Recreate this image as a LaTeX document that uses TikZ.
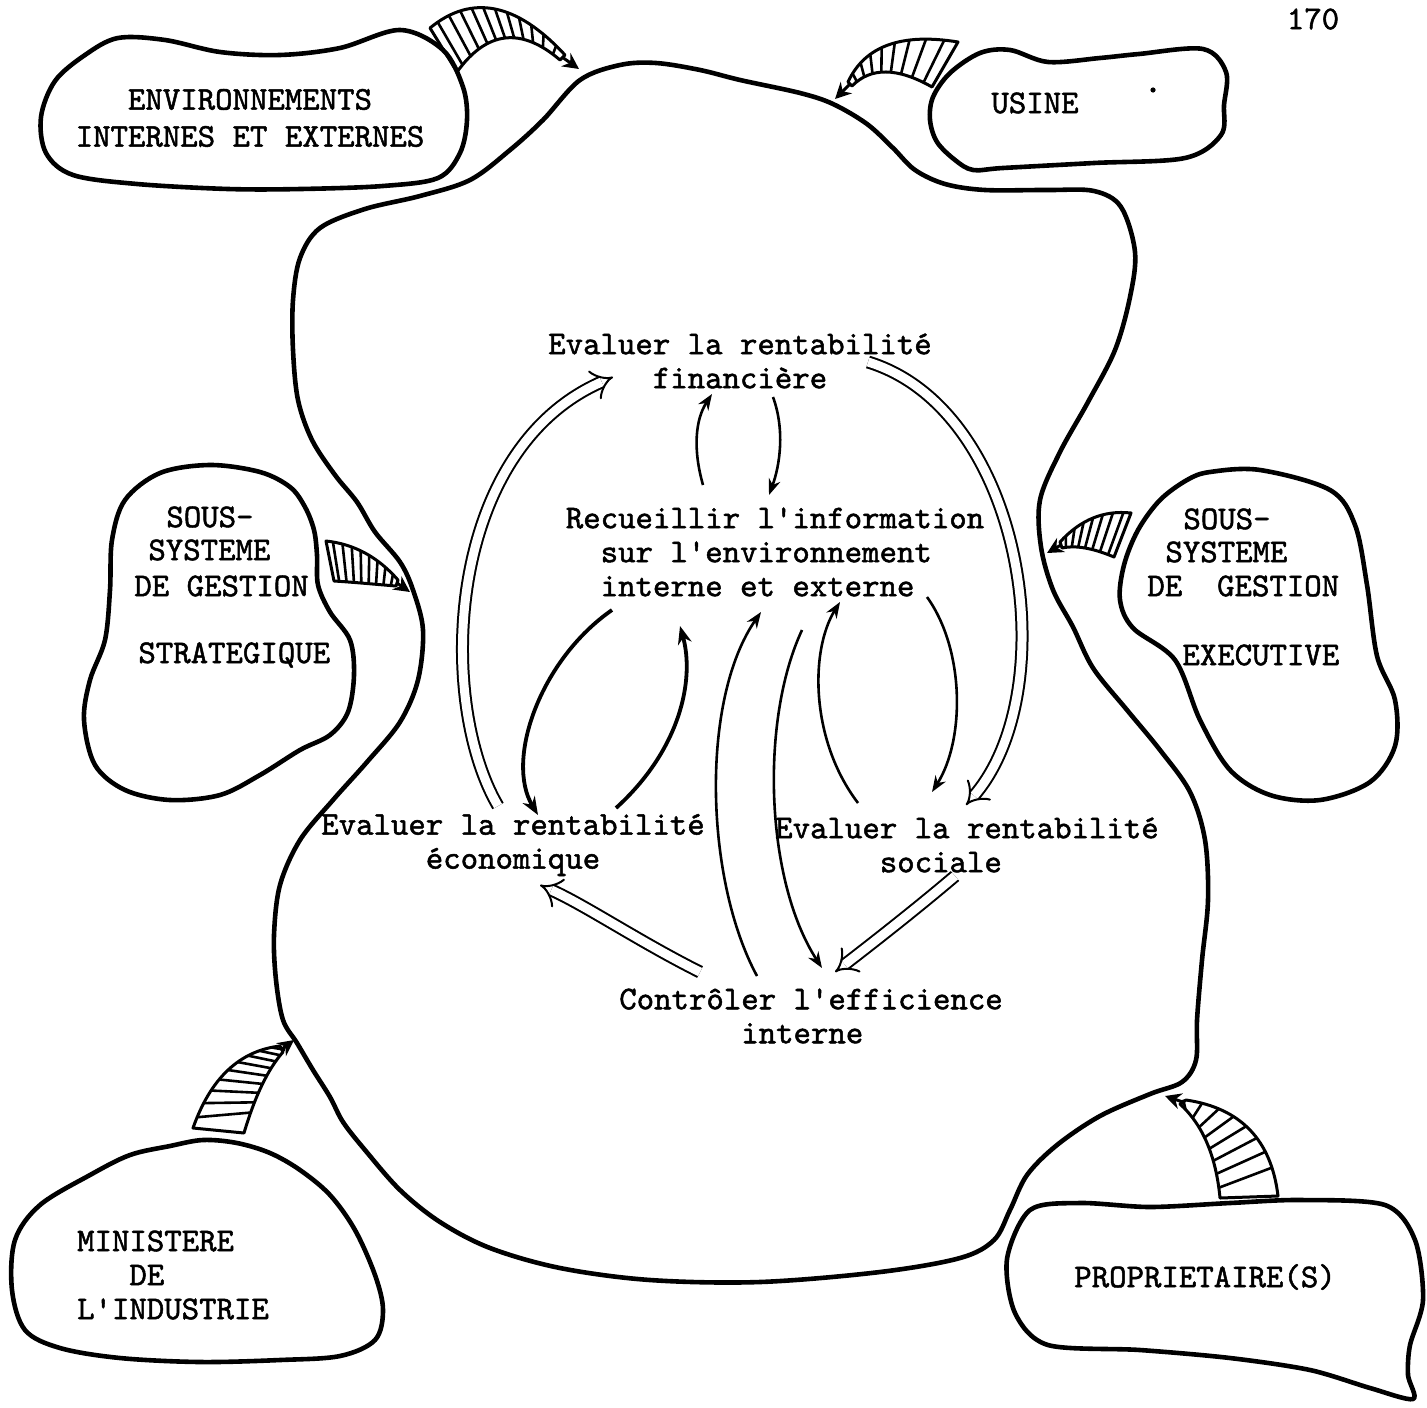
\documentclass[tikz,border=0pt]{standalone}
\usepackage{fontspec}
\setmonofont{lmmono10-regular.otf}[FakeBold=1.5]
\usetikzlibrary{arrows.meta,calc}
\newcommand\hatchband[3]{%
  \foreach \k in {1,...,#2}{%
    \pgfmathsetmacro\ta{(\k-0.3)/(#2+0.4)}%
    \pgfmathsetmacro\tb{\ta+#3}%
    \path (#1oa) .. controls (#1o1) and (#1o2) .. (#1oe) coordinate[pos=\ta] (#1h);
    \path (#1ia) .. controls (#1i1) and (#1i2) .. (#1ie) coordinate[pos=\tb] (#1g);
    \draw[hatchline] (#1h) -- (#1g);
  }%
  \draw[bandline] (#1oa) .. controls (#1o1) and (#1o2) .. (#1oe) -- (#1ie) .. controls (#1i2) and (#1i1) .. (#1ia) -- cycle;
  \draw[bandline,-{Stealth[length=8pt,width=8pt]}] (#1end) -- (#1tip);
}
\begin{document}
\begin{tikzpicture}[x=0.5pt,y=-0.5pt,
  every node/.style={font=\ttfamily\fontsize{16.6}{17}\selectfont, inner sep=0pt},
  blob/.style={line width=2.3pt, line join=round},
  bandline/.style={line width=1.5pt, line join=round},
  hatchline/.style={line width=1.3pt},
  thinarr/.style={line width=1.3pt, -{Stealth[length=8pt,width=6pt]}},
  thickarr/.style={line width=1.9pt, -{Stealth[length=9pt,width=7pt]}},
  dblarr/.style={double, double distance=4.5pt, line width=1pt, -{Implies}},
  ]
\useasboundingbox (0,0) rectangle (1427,1407);
\fill[white] (0,0) rectangle (1427,1407);

% ---------- main blob ----------
\draw[blob] plot[smooth cycle, tension=0.55] coordinates {
 (620,65) (656,63) (700,70) (740,80) (800,93) (833,104) (867,124) (893,148)
 (915,170) (945,184) (985,190) (1048,190) (1094,191) (1121,207) (1135,252)
 (1130,297) (1115,350) (1088,402) (1060,452) (1040,500) (1041,547) (1053,590)
 (1073,627) (1093,668) (1127,710) (1160,750) (1190,792) (1205,840) (1208,900)
 (1202,960) (1197,1020) (1196,1060) (1182,1082) (1150,1094) (1100,1116)
 (1057,1145) (1027,1175) (1010,1210) (994,1240) (960,1258) (880,1272)
 (760,1282) (650,1280) (560,1268) (490,1248) (440,1222) (400,1190) (365,1150)
 (343,1122) (330,1097) (313,1070) (297,1043) (283,1020) (276,980) (274,935)
 (280,885) (300,840) (333,800) (367,762) (400,722) (418,680) (423,630)
 (413,590) (400,562) (375,532) (357,502) (335,475) (312,440) (298,400)
 (293,350) (293,300) (300,258) (320,228) (365,209) (420,196) (470,180)
 (510,150) (543,120) (580,80)};

% ---------- surrounding blobs ----------
\draw[blob] plot[smooth cycle, tension=0.55] coordinates {
 (41,117) (55,81) (85,55) (118,38) (165,40) (220,52) (280,55) (340,48)
 (400,30) (443,50) (463,87) (467,120) (460,153) (438,178) (383,186)
 (301,189) (228,189) (137,184) (73,175) (46,153)};
\draw[blob] plot[smooth cycle, tension=0.55] coordinates {
 (930,120) (933,97) (950,73) (980,53) (1010,50) (1048,62) (1100,58)
 (1139,54) (1203,49) (1226,72) (1224,105) (1221,135) (1185,158) (1094,163)
 (1003,168) (973,170) (955,160) (937,142)};
\draw[blob] plot[smooth cycle, tension=0.55] coordinates {
 (125,500) (160,473) (210,465) (260,472) (290,487) (305,507) (314,530)
 (317,555) (318,585) (330,612) (350,640) (354,675) (348,712) (330,735)
 (300,750) (260,775) (220,795) (170,800) (125,790) (95,765) (84,720)
 (90,680) (105,640) (110,590) (112,540)};
\draw[blob] plot[smooth cycle, tension=0.55] coordinates {
 (1187,480) (1160,500) (1138,530) (1124,565) (1120,600) (1133,628)
 (1175,660) (1200,720) (1230,770) (1270,795) (1320,800) (1370,782)
 (1395,746) (1395,700) (1377,656) (1367,585) (1355,525) (1330,490)
 (1260,470) (1210,472)};
\draw[blob] plot[smooth cycle, tension=0.55] coordinates {
 (12,1290) (15,1240) (40,1205) (90,1175) (130,1155) (170,1146) (203,1140)
 (237,1143) (270,1153) (300,1170) (330,1195) (355,1230) (375,1275)
 (383,1310) (375,1340) (340,1356) (280,1360) (200,1362) (120,1358)
 (60,1348) (25,1330)};
\draw[blob] plot[smooth cycle, tension=0.5] coordinates {
 (1007,1259) (1030,1210) (1080,1203) (1150,1207) (1230,1203) (1300,1200)
 (1385,1205) (1415,1240) (1423,1300) (1410,1345) (1408,1375) (1413,1399)
 (1370,1388) (1310,1370) (1230,1358) (1140,1350) (1048,1345) (1015,1313)};
\fill (1153,90) circle (1.3pt);

% ---------- texts ----------
\node[anchor=north] (pg) at (1313,8) {170};
\node[align=center] (env) at (250,118) {ENVIRONNEMENTS\\[1.5pt]INTERNES ET EXTERNES};
\node (usine) at (1035,103) {USINE};
\node[anchor=west] (ls1) at (166,517) {SOUS-};
\node[anchor=west] (ls2) at (148,550) {SYSTEME};
\node[anchor=west] (ls3) at (134,586) {DE GESTION};
\node[anchor=west] (ls4) at (138,655) {STRATEGIQUE};
\node[anchor=west] (rs1) at (1183,519) {SOUS-};
\node[anchor=west] (rs2) at (1165,552) {SYSTEME};
\node[anchor=west] (rs3) at (1147,586) {DE\ \ GESTION};
\node[anchor=west] (rs4) at (1182,655) {EXECUTIVE};
\node[align=left] (min) at (173,1275) {MINISTERE\\\phantom{XXX}DE\\L'INDUSTRIE};
\node (prop) at (1205,1277) {PROPRIETAIRE(S)};
\node[align=center] (fin) at (740,361) {Evaluer la rentabilité\\financière};
\node[align=left] (rec) at (775,552) {Recueillir l'information\\\phantom{xx}sur l'environnement\\\phantom{xx}interne et externe};
\node[align=center] (eco) at (513,845) {Evaluer la rentabilité\\économique};
\node[align=left] (soc) at (967,845) {Evaluer la rentabilité\\\phantom{xxxxxx}sociale};
\node[align=left] (con) at (811,1016) {Contrôler l'efficience\\\phantom{xxxxxxx}interne};

% ---------- hatched arrows ----------
\coordinate (eoa) at (430,28); \coordinate (eo1) at (471.7,-6.3); \coordinate (eo2) at (516.7,2.7); \coordinate (eoe) at (565,55);
\coordinate (eia) at (457,72); \coordinate (ei1) at (486.7,30.7); \coordinate (ei2) at (521,26.7); \coordinate (eie) at (560,60);
\coordinate (eend) at (562,57); \coordinate (etip) at (579,69);
\hatchband{e}{11}{0}

\coordinate (uoa) at (958,42); \coordinate (uo1) at (901.3,32.7); \coordinate (uo2) at (864.7,46); \coordinate (uoe) at (848,82);
\coordinate (uia) at (932,87); \coordinate (ui1) at (897.3,67.3); \coordinate (ui2) at (870.7,67); \coordinate (uie) at (852,86);
\coordinate (uend) at (850,84); \coordinate (utip) at (835,99);
\hatchband{u}{8}{0}

\coordinate (loa) at (326,541); \coordinate (lo1) at (354,544); \coordinate (lo2) at (378,557); \coordinate (loe) at (398,580);
\coordinate (lia) at (334,581); \coordinate (li1) at (354.7,582.3); \coordinate (li2) at (375.3,584.3); \coordinate (lie) at (396,586);
\coordinate (lend) at (397,583); \coordinate (ltip) at (410,592);
\hatchband{l}{8}{0}

\coordinate (roa) at (1131,513); \coordinate (ro1) at (1104,510); \coordinate (ro2) at (1080.3,519.7); \coordinate (roe) at (1060,542);
\coordinate (ria) at (1114,557); \coordinate (ri1) at (1092.7,548); \coordinate (ri2) at (1075.3,545); \coordinate (rie) at (1062,548);
\coordinate (rend) at (1061,545); \coordinate (rtip) at (1047,553);
\hatchband{r}{7}{0}

\coordinate (moa) at (193,1128); \coordinate (mo1) at (210.7,1078); \coordinate (mo2) at (239.7,1050.7); \coordinate (moe) at (280,1046);
\coordinate (mia) at (244,1133); \coordinate (mi1) at (255,1096); \coordinate (mi2) at (268,1069); \coordinate (mie) at (283,1052);
\coordinate (mend) at (282,1049); \coordinate (mtip) at (294,1040);
\hatchband{m}{9}{0.12}

\coordinate (poa) at (1220,1198); \coordinate (po1) at (1216,1156); \coordinate (po2) at (1202.7,1124.7); \coordinate (poe) at (1180,1104);
\coordinate (pia) at (1278,1196); \coordinate (pi1) at (1271.3,1140); \coordinate (pi2) at (1240.7,1108); \coordinate (pie) at (1186,1100);
\coordinate (pend) at (1183,1102); \coordinate (ptip) at (1165,1096);
\hatchband{p}{8}{0.1}

% ---------- central connectors ----------
\coordinate (d1s) at (498,806); \coordinate (d1e) at (613,377);
\draw[dblarr] (d1s) .. controls (436,700) and (446,450) .. (d1e);
\coordinate (d2s) at (868,362); \coordinate (d2e) at (966,805);
\draw[dblarr] (d2s) .. controls (1025,410) and (1065,690) .. (d2e);
\coordinate (d3s) at (955,876); \coordinate (d3e) at (835,972);
\draw[dblarr] (d3s) .. controls (915,910) and (870,945) .. (d3e);
\coordinate (d4s) at (700,972); \coordinate (d4e) at (540,885);
\draw[dblarr] (d4s) .. controls (640,942) and (585,905) .. (d4e);

\coordinate (a1s) at (773,397); \coordinate (a1e) at (769,495);
\draw[thinarr] (a1s) .. controls (785,430) and (780,465) .. (a1e);
\coordinate (a2s) at (703,485); \coordinate (a2e) at (712,394);
\draw[thinarr] (a2s) .. controls (693,450) and (695,420) .. (a2e);
\coordinate (a3s) at (612,610); \coordinate (a3e) at (538,815);
\draw[thickarr] (a3s) .. controls (540,660) and (505,760) .. (a3e);
\coordinate (a4s) at (616,808); \coordinate (a4e) at (680,626);
\draw[thickarr] (a4s) .. controls (680,750) and (695,680) .. (a4e);
\coordinate (a5s) at (927,597); \coordinate (a5e) at (932,792);
\draw[thinarr] (a5s) .. controls (965,650) and (965,740) .. (a5e);
\coordinate (a6s) at (858,803); \coordinate (a6e) at (840,602);
\draw[thinarr] (a6s) .. controls (810,740) and (810,650) .. (a6e);
\coordinate (a7s) at (757,976); \coordinate (a7e) at (761,612);
\draw[thinarr] (a7s) .. controls (705,880) and (700,700) .. (a7e);
\coordinate (a8s) at (802,630); \coordinate (a8e) at (822,968);
\draw[thinarr] (a8s) .. controls (760,720) and (765,880) .. (a8e);
\end{tikzpicture}
\end{document}
